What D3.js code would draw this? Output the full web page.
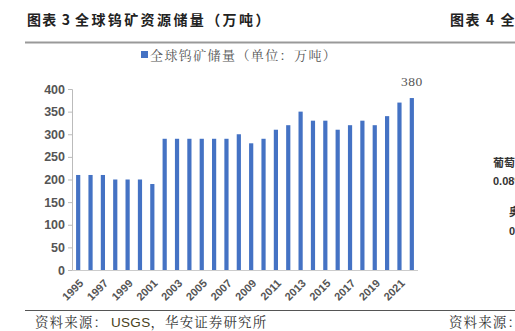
<!DOCTYPE html>
<html><head><meta charset="utf-8">
<script src="https://cdn.jsdelivr.net/npm/d3@7"></script>
<style>body{margin:0;background:#fff;}svg{display:block;}</style>
</head><body>
<svg id="c" width="515" height="331"></svg>
<script>
const years = d3.range(1995, 2023).map(String);
const reserves = [210,210,210,200,200,200,190,290,290,290,290,290,290,300,280,290,310,320,350,330,330,310,320,330,320,340,370,380];
const yTicks = [0,50,100,150,200,250,300,350,400];
const xTickLabels = years.filter((d,i)=>i%2===0);
const seriesName = "全球钨矿储量（单位：万吨）";
const titleParts = ["图表 3", "全球钨矿资源储量（万吨）"];
const sourceParts = ["资料来源：", "USGS", "，华安证券研究所"];

const svg = d3.select("#c");
const sans = "'Liberation Sans', Arial, sans-serif";
const cjk = "'Noto Sans CJK SC', sans-serif";
const serifCjk = "'Noto Serif CJK SC','Noto Sans CJK SC',serif";
const blue = "#4472C4";

// header
svg.append("text").attr("x",27).attr("y",25).attr("font-family",cjk).attr("font-weight","bold")
  .attr("font-size",14).attr("letter-spacing",1.2).attr("fill","#222").text(titleParts[0]);
svg.append("text").attr("x",75).attr("y",25).attr("font-family",cjk).attr("font-weight","bold")
  .attr("font-size",14).attr("letter-spacing",2.4).attr("fill","#222").text(titleParts[1]);
svg.append("text").attr("x",450).attr("y",25).attr("font-family",cjk).attr("font-weight","bold")
  .attr("font-size",14).attr("letter-spacing",1.6).attr("fill","#222").text("图表 4 全");
svg.append("line").attr("x1",25).attr("x2",515).attr("y1",42.5).attr("y2",42.5).attr("stroke","#999").attr("stroke-width",2);

// footer
svg.append("line").attr("x1",25).attr("x2",515).attr("y1",310.5).attr("y2",310.5).attr("stroke","#555").attr("stroke-width",1);
const src = svg.append("text").attr("x",35).attr("y",327).attr("font-family",serifCjk).attr("font-size",13.5)
  .attr("letter-spacing",1.1).attr("fill","#333");
src.append("tspan").text(sourceParts[0]);
src.append("tspan").attr("font-family",sans).attr("letter-spacing",0.3).attr("dx",3).attr("fill","#4a4220").text(sourceParts[1]);
src.append("tspan").text(sourceParts[2]);
svg.append("text").attr("x",449).attr("y",327).attr("font-family",serifCjk).attr("font-size",13.5)
  .attr("letter-spacing",1.1).attr("fill","#333").text("资料来源：");

// right partial panel
svg.append("text").attr("x",493).attr("y",167).attr("font-family",cjk).attr("font-weight","bold").attr("font-size",11).attr("fill","#333").text("葡萄牙");
svg.append("text").attr("x",493).attr("y",185).attr("font-family",sans).attr("font-weight","bold").attr("font-size",11).attr("fill","#333").text("0.08%");
svg.append("text").attr("x",509).attr("y",216).attr("font-family",cjk).attr("font-weight","bold").attr("font-size",11).attr("fill","#333").text("奥地利");
svg.append("text").attr("x",509).attr("y",235).attr("font-family",sans).attr("font-weight","bold").attr("font-size",11).attr("fill","#333").text("0.0");

// chart
const x = d3.scaleBand().domain(years).range([72,418]).paddingInner(0.66).paddingOuter(0.33);
const y = d3.scaleLinear().domain([0,400]).range([270,89]);

svg.selectAll("rect.bar").data(reserves).join("rect").attr("class","bar")
  .attr("x",(d,i)=>x(years[i])).attr("width",x.bandwidth())
  .attr("y",d=>y(d)).attr("height",d=>y(0)-y(d)).attr("fill",blue);

const yAxis = svg.append("g").attr("transform","translate(72,0)")
  .call(d3.axisLeft(y).tickValues(yTicks).tickSize(4).tickPadding(3));
yAxis.select(".domain").attr("stroke","#bbb");
yAxis.selectAll(".tick line").attr("stroke","#bbb");
yAxis.selectAll("text").attr("font-family",sans).attr("font-weight","bold").attr("font-size",12.5).attr("fill","#555");

const xAxis = svg.append("g").attr("transform","translate(0,270)")
  .call(d3.axisBottom(x).tickValues(xTickLabels).tickSize(0).tickSizeOuter(0).tickPadding(0));
xAxis.select(".domain").attr("stroke","#ccc").attr("d","M72,0.5H418");
xAxis.selectAll("text").attr("font-family",sans).attr("font-weight","bold").attr("font-size",11).attr("fill","#555")
  .attr("text-anchor","end").attr("dy",null).attr("y",0).attr("transform","translate(6,14) rotate(-45)");

// value label
const lastI = reserves.length-1;
svg.append("text").attr("x",x(years[lastI])+x.bandwidth()/2).attr("y",y(reserves[lastI])-12)
  .attr("text-anchor","middle").attr("font-family","'Liberation Serif', serif").attr("font-size",13.5)
  .attr("letter-spacing",0.5).attr("fill","#555").text(reserves[lastI]);

// legend
svg.append("rect").attr("x",141).attr("y",51).attr("width",7).attr("height",7).attr("fill",blue);
svg.append("text").attr("x",150).attr("y",59.5).attr("font-family",serifCjk)
  .attr("font-size",13).attr("letter-spacing",1.4).attr("fill","#555").text(seriesName);
</script>
</body></html>
